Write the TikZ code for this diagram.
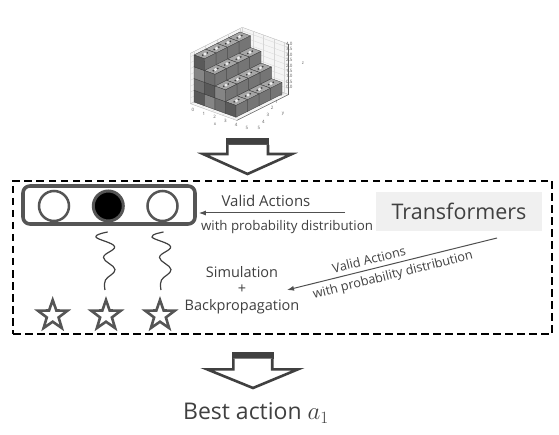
\documentclass[tikz,border=0pt]{standalone}
\usepackage{fontspec}
\setmainfont{Open Sans}
\usetikzlibrary{shapes.geometric,arrows.meta}
\definecolor{ink}{HTML}{404040}
\definecolor{edgec}{HTML}{555555}
\definecolor{arrc}{HTML}{505050}
\definecolor{tfgray}{HTML}{F0F0F0}
\definecolor{panef}{HTML}{F5F5F5}
\definecolor{gridc}{HTML}{D6D6D6}
\definecolor{panee}{HTML}{B0B0B0}
\definecolor{cubetop}{HTML}{A6A6A6}
\definecolor{cubeA}{HTML}{5A5A5A}
\definecolor{cubeB}{HTML}{6E6E6E}
\definecolor{cubeC}{HTML}{858585}
\definecolor{cuberise}{HTML}{757575}
\definecolor{cubeedge}{HTML}{3A3A3A}
\definecolor{tickc}{HTML}{606060}
\tikzset{
  lbl/.style={text=ink, inner sep=0pt},
  small/.style={lbl, font=\fontsize{13.3}{16}\selectfont},
  smallbig/.style={lbl, font=\fontsize{15}{17}\selectfont},
  slant/.style={lbl, font=\fontsize{12.7}{15}\selectfont, rotate=14},
  mid/.style={lbl, font=\fontsize{14.5}{16.5}\selectfont},
  big/.style={lbl, font=\fontsize{23}{27}\selectfont},
  tick/.style={text=tickc, inner sep=0pt, font=\fontsize{4.5}{5}\selectfont},
  blockarrow/.style={draw=ink, line width=2.6pt, fill=white, line join=miter},
  band/.style={fill=ink},
  stagebox/.style={draw=black, line width=2pt, dash pattern=on 7.5pt off 4.5pt,
    minimum width=539pt, minimum height=153pt, inner sep=0pt},
  actbox/.style={draw=edgec, line width=3.6pt, rounded corners=7pt,
    minimum width=172pt, minimum height=38pt, inner sep=0pt},
  opt/.style={circle, draw=edgec, line width=2.5pt, fill=white, minimum size=30pt, inner sep=0pt},
  optsel/.style={opt, fill=black, line width=3pt},
  leaf/.style={star, star points=5, star point ratio=2.5, draw=edgec, line width=2.6pt,
    fill=white, minimum size=31pt, inner sep=0pt},
  tfbox/.style={fill=tfgray, text=ink, minimum width=166pt, minimum height=39pt,
    font=\fontsize{21.5}{24}\selectfont},
  conn/.style={draw=arrc, line width=1pt, -{Latex[length=7pt,width=5pt]}},
  wiggle/.style={draw=ink, line width=1.2pt},
  face/.style={draw=cubeedge, line width=0.3pt, line join=round},
}
\begin{document}
\begin{tikzpicture}[x=1pt,y=1pt]
\useasboundingbox (0,0) rectangle (559,-435);
\fill[white] (0,0) rectangle (559,-435);

% ---------- 3D bar chart ----------
\begin{scope}[shift={(194,-102)}, x={(11.5pt,5.75pt)}, y={(10.5pt,-3.8pt)}, z={(0pt,11.75pt)}]
  % panes
  \filldraw[fill=panef, draw=panee, line width=0.3pt] (-0.3,0,0) -- (4.2,0,0) -- (4.2,0,4.3) -- (-0.3,0,4.3) -- cycle;
  \filldraw[fill=panef, draw=panee, line width=0.3pt] (4.2,0,0) -- (4.2,4.4,0) -- (4.2,4.4,4.3) -- (4.2,0,4.3) -- cycle;
  \filldraw[fill=panef, draw=panee, line width=0.3pt] (-0.3,0,0) -- (4.2,0,0) -- (4.2,4.4,0) -- (-0.3,4.4,0) -- cycle;
  \foreach \zz in {0,0.5,...,4.01}{
    \draw[gridc, line width=0.3pt] (-0.3,0,\zz) -- (4.2,0,\zz) -- (4.2,4.4,\zz);
  }
  \foreach \uu in {0,1,2,3,4}{
    \draw[gridc, line width=0.3pt] (\uu,0,0) -- (\uu,0,4.3);
    \draw[gridc, line width=0.3pt] (\uu,0,0) -- (\uu,4.4,0);
  }
  \foreach \vv in {0,1,2,3,4}{
    \draw[gridc, line width=0.3pt] (4.2,\vv,0) -- (4.2,\vv,4.3);
    \draw[gridc, line width=0.3pt] (-0.3,\vv,0) -- (4.2,\vv,0);
  }
  \draw[tickc, line width=0.4pt] (4.2,4.4,0) -- (4.2,4.4,4.3);
  \draw[tickc, line width=0.4pt] (-0.3,4.4,0) -- (4.2,4.4,0);
  % cubes
  \foreach \a in {3,2,1,0}{
    \foreach \b in {0,1,2,3}{
      \pgfmathtruncatemacro\h{3-\b}
      \foreach \c in {0,...,\h}{
        \pgfmathtruncatemacro\s{mod(\a+2*\b+\c,3)}
        \ifcase\s \def\sidec{cubeA}\or \def\sidec{cubeB}\or \def\sidec{cubeC}\fi
        \filldraw[face, fill=cubetop] ({\a},{\b},{\c+1}) -- ({\a+1},{\b},{\c+1}) -- ({\a+1},{\b+1},{\c+1}) -- ({\a},{\b+1},{\c+1}) -- cycle;
        \filldraw[face, fill=\sidec] ({\a},{\b},{\c}) -- ({\a},{\b+1},{\c}) -- ({\a},{\b+1},{\c+1}) -- ({\a},{\b},{\c+1}) -- cycle;
        \filldraw[face, fill=cuberise] ({\a},{\b+1},{\c}) -- ({\a+1},{\b+1},{\c}) -- ({\a+1},{\b+1},{\c+1}) -- ({\a},{\b+1},{\c+1}) -- cycle;
        \ifnum\c=\h
          \fill[white!85!gray] ({\a+0.5},{\b+0.5},{\c+1}) circle (1.6pt);
          \fill[cubeedge] ({\a+0.3},{\b+0.5},{\c+1}) circle (0.9pt);
          \fill[cubeedge] ({\a+0.7},{\b+0.5},{\c+1}) circle (0.9pt);
        \fi
      }
    }
  }
\end{scope}
% chart tick labels
\foreach \i in {0,...,5}{
  \node[tick] (xt\i) at ({193+10.8*\i},{-110-3.6*\i}) {\i};
  \node[tick] (yt\i) at ({281-4.4*\i},{-95-6.6*\i}) {\i};
}
\node[tick] (xlab) at (215,-124) {x};
\node[tick] (ylab) at (283,-114) {y};
\foreach \i/\t in {0/0.0,1/0.5,2/1.0,3/1.5,4/2.0,5/2.5,6/3.0,7/3.5,8/4.0}{
  \node[tick, anchor=west] (zt\i) at (286,{-87+5.375*\i}) {\t};
}
\node[tick] (zlab) at (303,-63) {z};

% ---------- top block arrow ----------
\fill[band] (226,-138) rectangle (269.3,-145.5);
\draw[blockarrow] (227.3,-145) -- (227.3,-154) -- (203,-154) -- (247.5,-174) -- (292,-154) -- (268,-154) -- (268,-145);

% ---------- dashed stage ----------
\node[stagebox] (stage) at (282.5,-257.5) {};

% action box with circles
\node[actbox] (actions) at (109,-205) {};
\node[opt] (c1) at (54,-206) {};
\node[optsel] (c2) at (108.3,-206) {};
\node[opt] (c3) at (162.5,-206) {};

% wiggles
\draw[wiggle] plot[smooth, tension=0.7] coordinates {(107.7,-232) (96,-237) (114.5,-246.5) (103.5,-257.5) (115,-269.5) (105.5,-280) (105,-290)};
\draw[wiggle] plot[smooth, tension=0.7] coordinates {(163.5,-232) (152,-237) (170.5,-246.5) (159.5,-257.5) (171,-269.5) (161.5,-280) (161,-290)};

% stars
\node[leaf] (s1) at (52.7,-315.5) {};
\node[leaf] (s2) at (106,-315.5) {};
\node[leaf] (s3) at (160,-315.5) {};

% transformers
\node[tfbox] (tf) at (459,-211.5) {Transformers};

% arrow 1
\coordinate (a1s) at (345,-213);
\draw[conn, shorten >=2pt] (a1s) -- (a1s -| actions.east);
\node[smallbig] (l1a) at (266,-200.8) {Valid Actions};
\node[small] (l1b) at (287,-227.5) {with probability distribution};

% arrow 2
\coordinate (a2s) at (497,-238);
\coordinate (a2e) at (287,-290);
\draw[conn] (a2s) -- (a2e);
\node[slant] (l2a) at (369,-259.5) {Valid Actions};
\node[slant] (l2b) at (393,-275.5) {with probability distribution};

% simulation text
\node[mid, align=center] (sim) at (242,-290) {Simulation\\+\\Backpropagation};

% ---------- bottom block arrow ----------
\fill[band] (232,-351.7) rectangle (273.5,-359);
\draw[blockarrow] (233.3,-358.5) -- (233.3,-369.3) -- (207,-369.3) -- (253,-388) -- (298,-369.3) -- (272.2,-369.3) -- (272.2,-358.5);

\node[big] (best) at (256,-413) {Best action $a_1$};
\end{tikzpicture}
\end{document}
